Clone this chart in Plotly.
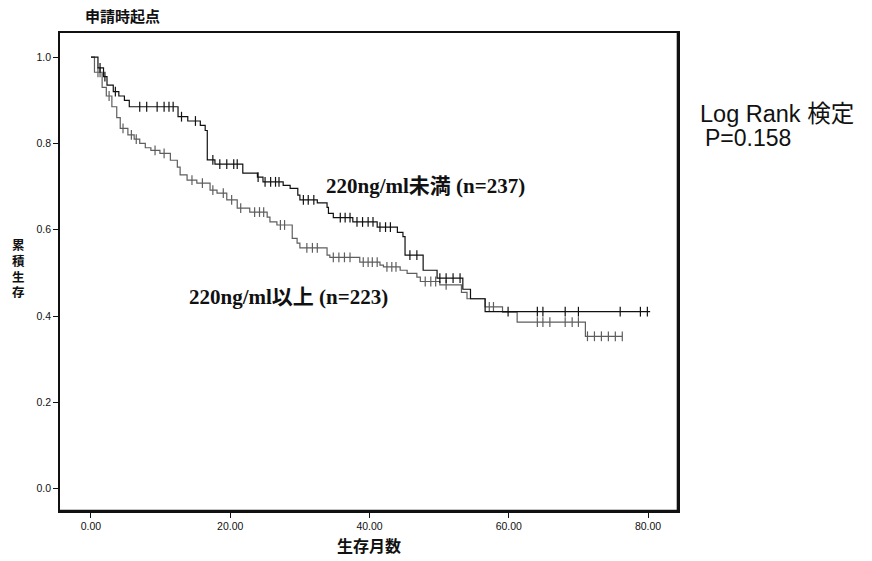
import numpy as np
import plotly.graph_objects as go

# Kaplan-Meier curve: < 220 ng/ml (n=237)
low_times = [0, 1.0, 1.8, 2.3, 3.2, 4.0, 4.8, 5.5, 12.5, 13.9, 15.7, 16.4, 16.7, 17.8,
             21.8, 23.9, 24.7, 27.6, 28.6, 29.7, 30.0, 32.5, 33.9, 34.1, 34.8, 37.6,
             41.1, 44.0, 44.8, 45.1, 47.7, 49.7, 53.4, 54.5, 56.6]
low_surv = [1.0, 0.975, 0.955, 0.935, 0.92, 0.91, 0.90, 0.885, 0.862, 0.852, 0.842, 0.83,
            0.762, 0.752, 0.731, 0.722, 0.711, 0.703, 0.696, 0.680, 0.669, 0.662, 0.652,
            0.638, 0.628, 0.618, 0.606, 0.594, 0.584, 0.541, 0.506, 0.488, 0.462, 0.44, 0.41]
low_end = 80.3
low_censor = [1.3, 2.0, 3.5, 7.0, 8.0, 9.5, 10.5, 11.2, 11.8, 13.0, 15.0, 17.5, 18.5, 19.5,
              20.5, 21.0, 24.0, 25.0, 25.8, 26.5, 27.0, 30.5, 31.2, 32.0, 35.8, 36.5, 37.2,
              38.2, 39.0, 39.8, 40.5, 41.5, 42.3, 43.0, 45.8, 46.8, 50.1, 51.0, 52.0, 53.0,
              59.9, 64.1, 64.9, 68.1, 70.0, 76.0, 78.9, 79.9]

# Kaplan-Meier curve: >= 220 ng/ml (n=223)
high_times = [0, 0.5, 1.6, 2.2, 3.0, 3.7, 4.2, 5.3, 6.2, 7.0, 7.8, 8.6, 9.9, 11.4, 12.4,
              12.8, 13.8, 15.2, 17.1, 18.1, 19.5, 21.0, 22.8, 25.3, 25.7, 26.7, 28.9, 29.6,
              30.0, 33.9, 34.3, 38.6, 41.5, 42.0, 44.4, 45.4, 46.8, 47.3, 50.1, 53.2, 54.0,
              56.6, 59.1, 61.2, 71.0]
high_surv = [1.0, 0.965, 0.93, 0.91, 0.885, 0.86, 0.835, 0.82, 0.81, 0.80, 0.79, 0.784,
             0.777, 0.761, 0.745, 0.727, 0.715, 0.708, 0.692, 0.685, 0.669, 0.650, 0.641,
             0.629, 0.618, 0.611, 0.580, 0.569, 0.558, 0.541, 0.536, 0.525, 0.518, 0.514,
             0.506, 0.499, 0.490, 0.480, 0.472, 0.455, 0.44, 0.421, 0.409, 0.386, 0.353]
high_end = 76.3
high_censor = [1.0, 1.3, 2.6, 4.6, 5.8, 6.5, 9.2, 10.5, 14.5, 16.0, 17.5, 19.0, 20.2, 21.5,
               23.5, 24.2, 24.8, 27.2, 27.8, 31.0, 31.8, 32.5, 34.8, 35.6, 36.4, 37.2, 39.1,
               39.8, 40.4, 41.1, 42.5, 43.2, 43.8, 48.0, 48.8, 49.5, 51.0, 57.2, 57.8, 64.1,
               64.9, 65.9, 68.1, 69.1, 70.0, 71.3, 72.3, 73.3, 74.3, 75.3, 76.3]

y_ticks = [0.0, 0.2, 0.4, 0.6, 0.8, 1.0]
x_ticks = [0, 20, 40, 60, 80]

CJK_SERIF = "Liberation Serif, Noto Sans CJK JP"
CJK_SANS = "Liberation Sans, Noto Sans CJK JP"

W, H = 872, 561
ML, MR, MT, MB = 60, 194, 33, 50


def step_value(times, surv, t):
    idx = np.searchsorted(np.asarray(times), t, side="right") - 1
    return np.asarray(surv)[idx]


fig = go.Figure()


def add_curve(times, surv, end, censor, color):
    xs = list(times) + [end]
    ys = list(surv) + [surv[-1]]
    fig.add_trace(go.Scatter(x=xs, y=ys, mode="lines", line_shape="hv",
                             line=dict(color=color, width=1.2), showlegend=False,
                             hoverinfo="skip"))
    cy = [step_value(times, surv, t) for t in censor]
    fig.add_trace(go.Scatter(x=censor, y=cy, mode="markers",
                             marker=dict(symbol="line-ns", size=7,
                                         line=dict(color=color, width=1.2)),
                             showlegend=False, hoverinfo="skip"))


add_curve(high_times, high_surv, high_end, high_censor, "#5e5e5e")
add_curve(low_times, low_surv, low_end, low_censor, "#111111")

fig.update_layout(
    width=W, height=H,
    margin=dict(l=ML, r=MR, t=MT, b=MB),
    plot_bgcolor="white", paper_bgcolor="white",
    font=dict(family=CJK_SANS, color="#111"),
    xaxis=dict(range=[-4.45, 84.3], tickvals=x_ticks,
               ticktext=[f"{v:.2f}" for v in x_ticks],
               showgrid=False, zeroline=False, showline=True, mirror=True,
               linecolor="#111", linewidth=1.5, ticks="outside", ticklen=5,
               tickcolor="#111", tickfont=dict(size=10.5, family=CJK_SANS)),
    yaxis=dict(range=[-0.052, 1.056], tickvals=y_ticks,
               ticktext=[f"{v:.1f}" for v in y_ticks],
               showgrid=False, zeroline=False, showline=True, mirror=True,
               linecolor="#111", linewidth=1.5, ticks="outside", ticklen=5,
               tickcolor="#111", tickfont=dict(size=10.5, family=CJK_SANS)),
)

# heavier right and bottom frame edges
fig.add_shape(type="line", xref="paper", yref="paper", x0=1, x1=1, y0=0, y1=1,
              line=dict(color="#111", width=2.6))
fig.add_shape(type="line", xref="paper", yref="paper", x0=0, x1=1, y0=0, y1=0,
              line=dict(color="#111", width=2.4))

# text items placed in page pixels
texts = [
    ("<b>申請時起点</b>", 83, 17, "left", 15, CJK_SANS),
    ("<b>生存月数</b>", 369, 546, "center", 16, CJK_SANS),
    ("Log Rank 検定", 698, 114, "left", 23.5, CJK_SANS),
    ("P=0.158", 703, 138, "left", 23, CJK_SANS),
    ("<b>220ng/ml未満 (n=237)</b>", 425, 186, "center", 21, CJK_SERIF),
    ("<b>220ng/ml以上 (n=223)</b>", 288, 297, "center", 21, CJK_SERIF),
]
# vertical axis title, one character per row
for i, ch in enumerate("累積生存"):
    texts.append((f"<b>{ch}</b>", 18, 246 + i * 15.5, "center", 12.5, CJK_SANS))

for text, px, py, xa, size, fam in texts:
    fx = (px - ML) / (W - ML - MR)
    fy = (H - MB - py) / (H - MT - MB)
    fig.add_annotation(xref="paper", yref="paper", x=fx, y=fy, showarrow=False,
                       text=text, xanchor=xa, yanchor="middle",
                       font=dict(size=size, family=fam, color="#111"))

fig.write_html("out.html")
